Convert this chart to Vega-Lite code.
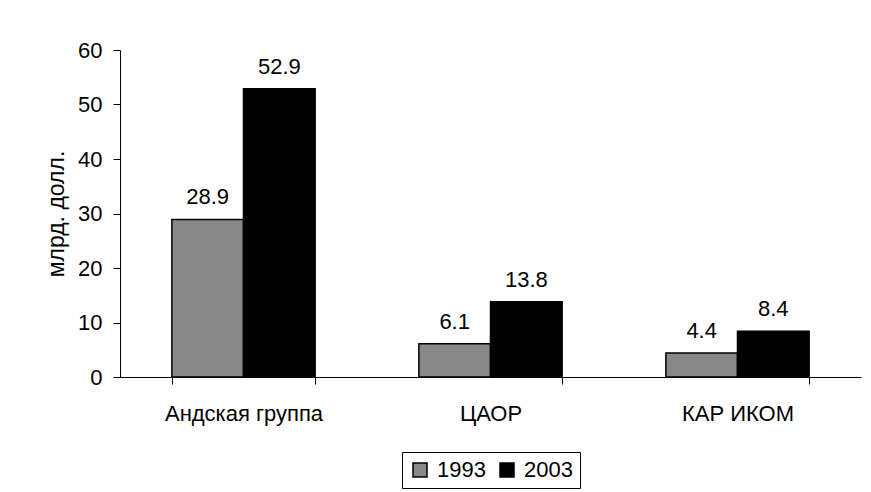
{
  "$schema": "https://vega.github.io/schema/vega-lite/v6.json",
  "autosize": "none",
  "width": 741,
  "height": 327,
  "padding": {"left": 120, "top": 50, "right": 10, "bottom": 115},
  "background": "white",
  "config": {
    "font": "Liberation Sans",
    "view": {"stroke": null},
    "axis": {"grid": false, "domainColor": "black", "tickColor": "black", "labelColor": "black", "titleColor": "black", "tickSize": 7, "domainWidth": 1, "tickWidth": 1}
  },
  "data": {
    "values": [
      {"group": "Андская группа", "year": "1993", "value": 28.9},
      {"group": "Андская группа", "year": "2003", "value": 52.9},
      {"group": "ЦАОР", "year": "1993", "value": 6.1},
      {"group": "ЦАОР", "year": "2003", "value": 13.8},
      {"group": "КАР ИКОМ", "year": "1993", "value": 4.4},
      {"group": "КАР ИКОМ", "year": "2003", "value": 8.4}
    ]
  },
  "encoding": {
    "x": {
      "field": "group", "type": "nominal", "sort": null,
      "scale": {"paddingInner": 0.42, "paddingOuter": 0.21},
      "axis": {"title": null, "labelAngle": 0, "labelFontSize": 22, "labelPadding": 19, "tickBand": "extent", "labelBaseline": "top"}
    },
    "xOffset": {"field": "year", "type": "nominal", "scale": {"paddingInner": 0, "paddingOuter": 0}},
    "y": {
      "field": "value", "type": "quantitative",
      "scale": {"domain": [0, 60], "nice": false},
      "axis": {"title": "млрд. долл.", "values": [0, 10, 20, 30, 40, 50, 60], "labelFontSize": 22, "labelPadding": 11, "titleFontSize": 23, "titleFontWeight": "normal", "titlePadding": 9}
    }
  },
  "layer": [
    {
      "mark": {"type": "bar", "stroke": "black", "strokeWidth": 1.5},
      "encoding": {
        "color": {
          "field": "year", "type": "nominal",
          "scale": {"domain": ["1993", "2003"], "range": ["#888888", "#000000"]},
          "legend": {
            "title": null, "orient": "none", "direction": "horizontal",
            "legendX": 282, "legendY": 402,
            "strokeColor": "black", "padding": 7,
            "symbolType": "square", "symbolSize": 196,
            "symbolStrokeColor": "black", "symbolStrokeWidth": 1.5,
            "labelFontSize": 22, "labelColor": "black", "labelOffset": 6,
            "columnPadding": 10
          }
        }
      }
    },
    {
      "mark": {"type": "text", "fontSize": 22, "baseline": "alphabetic", "dy": -15, "color": "black"},
      "encoding": {
        "text": {"field": "value", "type": "quantitative", "format": ".1f"}
      }
    }
  ]
}
